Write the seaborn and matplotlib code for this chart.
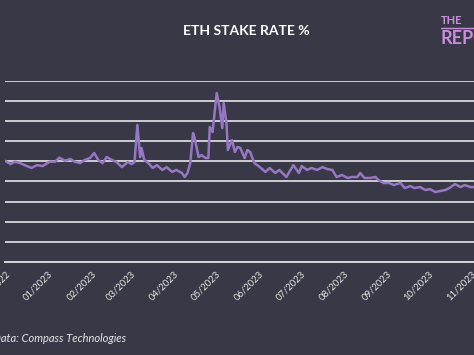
import pandas as pd
import seaborn as sns
import matplotlib.pyplot as plt
import matplotlib.dates as mdates

# days since 2022-12-01 and staking rate (%)
day_offset = [0, 4, 7, 11, 14, 19, 23, 27, 32, 36, 39, 43, 47, 50, 54, 57, 61, 64, 67, 70,
              73, 77, 80, 84, 88, 91, 93, 95, 97, 98, 100, 103, 106, 109, 113, 116, 120, 123,
              127, 129, 131, 133, 135, 136, 139, 141, 144, 146, 147, 149, 152, 154, 156, 157,
              159, 160, 163, 165, 167, 169, 172, 174, 176, 179, 183, 187, 190, 194, 197, 202,
              207, 211, 213, 217, 220, 224, 228, 231, 235, 238, 242, 246, 249, 253, 255, 258,
              262, 266, 268, 272, 276, 279, 284, 287, 291, 294, 298, 302, 305, 309, 312, 316,
              319, 323, 327, 330, 334, 337]
stake_rate = [5.03, 4.86, 4.98, 4.91, 4.81, 4.67, 4.81, 4.76, 4.98, 4.98, 5.18, 5.03, 5.11,
              4.98, 4.91, 5.06, 5.16, 5.41, 5.06, 4.91, 5.21, 5.06, 4.96, 4.71, 4.96, 4.86,
              4.96, 6.80, 5.21, 5.66, 5.06, 4.91, 4.67, 4.81, 4.57, 4.71, 4.47, 4.57, 4.42,
              4.22, 4.42, 4.91, 6.40, 6.20, 5.21, 5.31, 5.16, 5.16, 6.70, 6.45, 8.39, 7.69,
              6.65, 7.89, 6.90, 5.56, 6.05, 5.46, 5.71, 5.66, 5.16, 5.56, 5.46, 4.91, 4.71,
              4.47, 4.67, 4.42, 4.57, 4.22, 4.81, 4.42, 4.76, 4.57, 4.67, 4.57, 4.71, 4.62,
              4.57, 4.22, 4.32, 4.17, 4.22, 4.22, 4.42, 4.17, 4.17, 4.22, 4.07, 3.92, 3.92,
              3.82, 3.92, 3.67, 3.77, 3.67, 3.72, 3.57, 3.62, 3.47, 3.52, 3.57, 3.67, 3.87,
              3.72, 3.82, 3.72, 3.72]

start = pd.Timestamp('2022-12-01')
df = pd.DataFrame({'date': start + pd.to_timedelta(day_offset, unit='D'),
                   'rate': stake_rate})

bg = '#393846'
sns.set_style('dark', {'axes.facecolor': bg, 'figure.facecolor': bg})
plt.rcParams['font.family'] = ['Lato', 'DejaVu Sans']

fig = plt.figure(figsize=(4.74, 3.55), dpi=100)
ax = fig.add_axes([5 / 474, 1 - 262 / 355, 1 - 5 / 474, (262 - 80.7) / 355])

sns.lineplot(data=df, x='date', y='rate', ax=ax, color='#9677c4', linewidth=1.8)

ax.set_ylim(0, 9)
ax.set_xlim(start, start + pd.Timedelta(days=336.7))
ax.set_yticks(range(1, 10))
ax.yaxis.grid(True, color='#d8d8dc', linewidth=1.3)
ax.xaxis.grid(False)
ax.set_axisbelow(True)
ax.tick_params(axis='y', left=False, labelleft=False)

ax.xaxis.set_major_locator(mdates.MonthLocator())
ax.xaxis.set_major_formatter(mdates.DateFormatter('%m/%Y'))
ax.tick_params(axis='x', colors='#d8d8dc', direction='out', length=3, width=1.2,
               labelsize=6.8, labelcolor='#e6e6e6', pad=2)
for lbl in ax.get_xticklabels():
    lbl.set_rotation(45)
    lbl.set_ha('right')
    lbl.set_rotation_mode('anchor')

for s in ['top', 'right', 'left']:
    ax.spines[s].set_visible(False)
ax.spines['bottom'].set_color('#d8d8dc')
ax.spines['bottom'].set_linewidth(1.4)
ax.set_xlabel('')
ax.set_ylabel('')

fig.text(246 / 474, 1 - 31 / 355, 'ETH STAKE RATE %', color='white', fontsize=10,
         fontweight='bold', ha='center', va='center')
fig.text(-7 / 474, 1 - 338 / 355, 'Data: Compass Technologies', color='#e6e6e6',
         fontsize=8, style='italic', ha='left', va='center')

# logo, cut off at the right edge
fig.text(441 / 474, 1 - 20 / 355, 'THE', color='#c890dc', fontsize=8, fontweight='bold',
         ha='left', va='center')
fig.add_artist(plt.Line2D([441 / 474, 1], [1 - 28 / 355, 1 - 28 / 355], color='#c890dc',
                          linewidth=1))
fig.text(440 / 474, 1 - 38 / 355, 'REPORT', color='#c890dc', fontsize=13, fontweight='bold',
         ha='left', va='center')

fig.savefig('out.png', dpi=100, facecolor=bg)
